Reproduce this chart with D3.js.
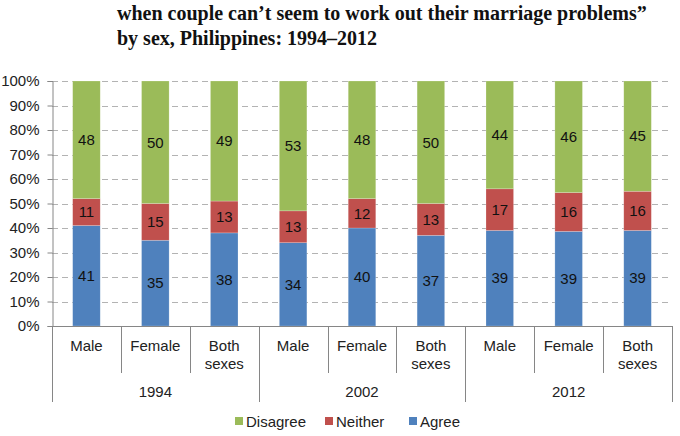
<!DOCTYPE html>
<html>
<head>
<meta charset="utf-8">
<script src="https://cdn.jsdelivr.net/npm/d3@7"></script>
<style>
  body { margin: 0; background: #fff; }
  svg { display: block; }
</style>
</head>
<body>
<svg width="680" height="436"></svg>
<script>
// chart data
const years = ["1994", "2002", "2012"];
const sexes = ["Male", "Female", "Both sexes"];
const agree    = [41, 35, 38, 34, 40, 37, 39, 39, 39];
const neither  = [11, 15, 13, 13, 12, 13, 17, 16, 16];
const disagree = [48, 50, 49, 53, 48, 50, 44, 46, 45];
const yTicks = [0, 0.1, 0.2, 0.3, 0.4, 0.5, 0.6, 0.7, 0.8, 0.9, 1];
const seriesNames = ["Agree", "Neither", "Disagree"];
const colors = { Agree: "#4F81BD", Neither: "#C0504D", Disagree: "#9BBB59" };

const rows = [];
years.forEach((yr, i) => {
    sexes.forEach((s, j) => {
        const k = i * 3 + j;
        rows.push({ key: yr + "|" + s, year: yr, sex: s,
            Agree: agree[k], Neither: neither[k], Disagree: disagree[k] });
    });
});

const svg = d3.select("svg");
const margin = { left: 52, right: 8, top: 81, bottom: 110 };
const W = 680, H = 436;
const sans = "Liberation Sans, Arial, sans-serif";

const x = d3.scaleBand()
    .domain(rows.map(d => d.key))
    .range([margin.left, W - margin.right])
    .paddingInner(0.6)
    .paddingOuter(0.3);
const step = x.step();
const x0 = margin.left;

const y = d3.scaleLinear().domain([0, 1]).range([H - margin.bottom, margin.top]);

// title
const title = svg.append("g")
    .attr("font-family", "Liberation Serif, Times New Roman, serif")
    .attr("font-weight", "bold")
    .attr("font-size", 20)
    .attr("fill", "#111");
title.append("text").attr("x", 117).attr("y", 20)
    .text("when couple can\u2019t seem to work out their marriage problems\u201d");
title.append("text").attr("x", 117).attr("y", 45)
    .text("by sex, Philippines: 1994\u20132012");

// gridlines
svg.append("g")
    .selectAll("line")
    .data(yTicks.filter(t => t > 0))
    .join("line")
    .attr("x1", margin.left).attr("x2", W - margin.right)
    .attr("y1", d => Math.round(y(d)) + 0.5).attr("y2", d => Math.round(y(d)) + 0.5)
    .attr("stroke", "#b3b3b3")
    .attr("stroke-dasharray", "6,4");

// y axis
const yAxis = svg.append("g")
    .attr("transform", `translate(${margin.left + 0.5},0)`)
    .call(d3.axisLeft(y).tickValues(yTicks).tickFormat(d3.format(".0%")).tickSize(5).tickPadding(8));
yAxis.select(".domain").attr("stroke", "#868686");
yAxis.selectAll(".tick line").attr("stroke", "#868686");
yAxis.selectAll(".tick text")
    .attr("font-family", sans)
    .attr("font-size", 15)
    .attr("fill", "#222");

// stacked bars
const stack = d3.stack().keys(seriesNames).offset(d3.stackOffsetExpand);
const series = stack(rows);

const layers = svg.append("g")
    .selectAll("g")
    .data(series)
    .join("g")
    .attr("fill", d => colors[d.key]);

layers.selectAll("rect")
    .data(d => d)
    .join("rect")
    .attr("x", d => x(d.data.key))
    .attr("width", x.bandwidth())
    .attr("y", d => y(d[1]))
    .attr("height", d => y(d[0]) - y(d[1]))
    .attr("stroke", "#ffffff")
    .attr("stroke-opacity", 0.35)
    .attr("stroke-width", 0.6);

layers.selectAll("text")
    .data(d => d.map(p => ({ p, key: d.key })))
    .join("text")
    .attr("x", d => x(d.p.data.key) + x.bandwidth() / 2)
    .attr("y", d => (y(d.p[0]) + y(d.p[1])) / 2)
    .attr("dy", "0.35em")
    .attr("text-anchor", "middle")
    .attr("font-family", sans)
    .attr("font-size", 15)
    .attr("fill", "#111")
    .text(d => d.p.data[d.key]);

// x axis (baseline + multi-level category ticks)
const base = H - margin.bottom;
const xa = svg.append("g").attr("stroke", "#868686").attr("stroke-width", 1);
xa.append("line")
    .attr("x1", margin.left).attr("x2", W - margin.right)
    .attr("y1", base + 0.5).attr("y2", base + 0.5);
d3.range(rows.length + 1).forEach(i => {
    const xx = Math.round(x0 + i * step) + 0.5;
    const isGroup = i % 3 === 0;
    xa.append("line")
        .attr("x1", xx).attr("x2", xx)
        .attr("y1", base).attr("y2", isGroup ? base + 76 : base + 47);
});

const catLabels = svg.append("g")
    .attr("font-family", sans)
    .attr("font-size", 15)
    .attr("fill", "#222")
    .attr("text-anchor", "middle");
rows.forEach(d => {
    const cx = x(d.key) + x.bandwidth() / 2;
    const words = d.sex === "Both sexes" ? ["Both", "sexes"] : [d.sex];
    words.forEach((w, i) => {
        catLabels.append("text")
            .attr("x", cx).attr("y", base + 25 + i * 18)
            .text(w);
    });
});
years.forEach((yr, i) => {
    catLabels.append("text")
        .attr("x", x0 + (i * 3 + 1.5) * step)
        .attr("y", base + 71)
        .text(yr);
});

// legend
const legendItems = ["Disagree", "Neither", "Agree"];
const legend = svg.append("g")
    .attr("font-family", sans)
    .attr("font-size", 15)
    .attr("fill", "#222");
const legendX = [235, 325, 409];
legendItems.forEach((name, i) => {
    legend.append("rect")
        .attr("x", legendX[i]).attr("y", 417)
        .attr("width", 8).attr("height", 8)
        .attr("fill", colors[name]);
    legend.append("text")
        .attr("x", legendX[i] + 11).attr("y", 427)
        .text(name);
});
</script>
</body>
</html>
